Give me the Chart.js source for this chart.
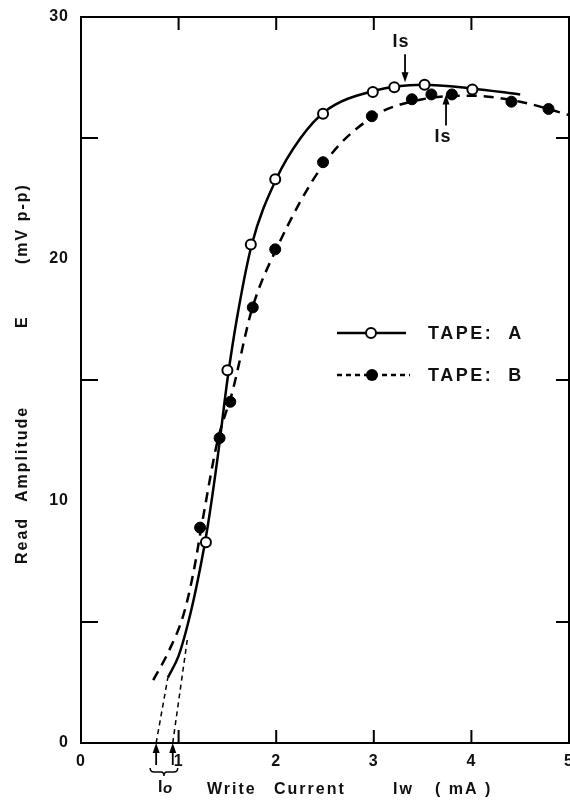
<!DOCTYPE html>
<html>
<head>
<meta charset="utf-8">
<script src="https://cdn.jsdelivr.net/npm/chart.js@4.4.1/dist/chart.umd.min.js"></script>
<style>
  html, body { margin: 0; padding: 0; background: #fff; }
  #wrap { width: 570px; height: 800px; }
</style>
</head>
<body>
<div id="wrap"><canvas id="ampChart" width="570" height="800"></canvas></div>
<script>
// Measured points: write current Iw (mA) -> read amplitude E (mV p-p)
const tapeA_x = [1.28, 1.50, 1.74, 1.99, 2.48, 2.99, 3.21, 3.52, 4.01];
const tapeA_y = [8.3, 15.4, 20.6, 23.3, 26.0, 26.9, 27.1, 27.2, 27.0];
const tapeB_x = [1.22, 1.42, 1.53, 1.76, 1.99, 2.48, 2.98, 3.39, 3.59, 3.80, 4.41, 4.79];
const tapeB_y = [8.9, 12.6, 14.1, 18.0, 20.4, 24.0, 25.9, 26.6, 26.8, 26.8, 26.5, 26.2];

// Drawn-in fitted curves
const curveA_x = [0.89, 1.0, 1.1, 1.2, 1.3, 1.4, 1.5, 1.6, 1.75, 2.0, 2.25, 2.5, 3.0, 3.5, 4.0, 4.5];
const curveA_y = [2.7, 3.6, 5.0, 6.8, 9.0, 11.8, 15.0, 17.6, 20.6, 23.3, 25.0, 26.1, 26.95, 27.2, 27.05, 26.8];
const curveB_x = [0.74, 0.9, 1.05, 1.15, 1.25, 1.4, 1.55, 1.75, 2.0, 2.5, 3.0, 3.5, 4.0, 4.5, 5.0];
const curveB_y = [2.6, 3.8, 5.3, 7.0, 9.3, 12.5, 14.5, 17.9, 20.4, 24.0, 25.9, 26.6, 26.75, 26.5, 25.95];

// Extrapolations down to the threshold current Io
const extA_x = [0.77, 0.89];
const extA_y = [0, 2.7];
const extB_x = [0.94, 1.09];
const extB_y = [0, 4.3];
const ioMarks = [0.77, 0.94];

// Saturation current Is markers [x, y of arrow tip]
const isA = [3.32, 27.3];
const isB = [3.74, 26.8];

const xTicks = [0, 1, 2, 3, 4, 5];
const yTicks = [0, 10, 20, 30];
const xMinor = [1, 2, 3, 4];
const yMinor = [5, 15, 25];

function pts(xs, ys) {
    return xs.map((x, i) => ({ x: x, y: ys[i] }));
}

const FONT = '"Liberation Sans", Arial, sans-serif';

function arrow(ctx, x, y1, y2) {
    // shaft from y1 to tip y2, head at y2
    const dir = y2 > y1 ? 1 : -1;
    ctx.beginPath();
    ctx.moveTo(x, y1);
    ctx.lineTo(x, y2 - dir * 6);
    ctx.stroke();
    ctx.beginPath();
    ctx.moveTo(x, y2);
    ctx.lineTo(x - 3.5, y2 - dir * 10);
    ctx.lineTo(x + 3.5, y2 - dir * 10);
    ctx.closePath();
    ctx.fill();
}

const decorPlugin = {
    id: 'decor',
    afterDraw(chart) {
        const ctx = chart.ctx;
        const a = chart.chartArea;
        const xs = chart.scales.x;
        const ys = chart.scales.y;
        ctx.save();
        ctx.strokeStyle = '#000';
        ctx.fillStyle = '#111';
        ctx.lineWidth = 2;
        ctx.strokeRect(a.left, a.top, a.right - a.left, a.bottom - a.top);

        // inner ticks
        ctx.beginPath();
        yMinor.forEach(v => {
            const py = ys.getPixelForValue(v);
            ctx.moveTo(a.left, py); ctx.lineTo(a.left + 17, py);
            ctx.moveTo(a.right, py); ctx.lineTo(a.right - 13, py);
        });
        xMinor.forEach(v => {
            const px = xs.getPixelForValue(v);
            ctx.moveTo(px, a.bottom); ctx.lineTo(px, a.bottom - 13);
            ctx.moveTo(px, a.top); ctx.lineTo(px, a.top + 13);
        });
        ctx.stroke();

        // tick labels
        ctx.font = 'bold 16px ' + FONT;
        ctx.letterSpacing = '1px';
        ctx.textBaseline = 'middle';
        ctx.textAlign = 'right';
        yTicks.forEach(v => ctx.fillText(String(v), a.left - 12, ys.getPixelForValue(v)));
        ctx.textAlign = 'center';
        xTicks.forEach(v => ctx.fillText(String(v), xs.getPixelForValue(v), a.bottom + 19));

        // axis titles
        ctx.font = 'bold 16px ' + FONT;
        ctx.letterSpacing = '2px';
        ctx.textAlign = 'left';
        ctx.fillText('Write', 207, 790);
        ctx.fillText('Current', 274, 790);
        ctx.fillText('Iw', 393, 790);
        ctx.fillText('( mA )', 435, 790);

        ctx.save();
        ctx.translate(23, 0);
        ctx.rotate(-Math.PI / 2);
        ctx.fillText('Read', -564, 0);
        ctx.fillText('Amplitude', -502, 0);
        ctx.fillText('E', -328, 0);
        ctx.fillText('(mV p-p)', -264, 0);
        ctx.restore();

        // Io arrows and brace
        ctx.lineWidth = 1.8;
        ctx.fillStyle = '#000';
        ioMarks.forEach(v => arrow(ctx, xs.getPixelForValue(v), a.bottom + 22, a.bottom));
        const b1 = xs.getPixelForValue(ioMarks[0]) - 6;
        const b2 = xs.getPixelForValue(ioMarks[1]) + 5;
        const bm = (b1 + b2) / 2;
        const by = a.bottom + 29;
        ctx.lineWidth = 1.5;
        ctx.beginPath();
        ctx.moveTo(b1, by - 4);
        ctx.quadraticCurveTo(b1, by, b1 + 4, by);
        ctx.lineTo(bm - 3, by);
        ctx.quadraticCurveTo(bm, by, bm, by + 4);
        ctx.quadraticCurveTo(bm, by, bm + 3, by);
        ctx.lineTo(b2 - 4, by);
        ctx.quadraticCurveTo(b2, by, b2, by - 4);
        ctx.stroke();
        ctx.fillStyle = '#111';
        ctx.letterSpacing = '0px';
        ctx.font = 'bold 16px ' + FONT;
        ctx.textAlign = 'left';
        ctx.fillText('I', bm - 6, by + 16);
        ctx.font = 'italic bold 15px ' + FONT;
        ctx.fillText('o', bm - 1, by + 17);

        // Is arrows
        ctx.lineWidth = 1.8;
        ctx.fillStyle = '#000';
        const ax = xs.getPixelForValue(isA[0]);
        const ay = ys.getPixelForValue(isA[1]);
        arrow(ctx, ax, ay - 28, ay);
        const bx = xs.getPixelForValue(isB[0]);
        const byy = ys.getPixelForValue(isB[1]);
        arrow(ctx, bx, byy + 31, byy);
        ctx.fillStyle = '#111';
        ctx.font = 'bold 18px ' + FONT;
        ctx.letterSpacing = '1px';
        ctx.textAlign = 'center';
        ctx.fillText('Is', ax - 4, ay - 40);
        ctx.fillText('Is', bx - 3, byy + 43);

        // legend
        ctx.lineWidth = 2.5;
        ctx.strokeStyle = '#000';
        ctx.beginPath();
        ctx.moveTo(337, 333); ctx.lineTo(406, 333);
        ctx.stroke();
        ctx.fillStyle = '#fff';
        ctx.lineWidth = 2;
        ctx.beginPath();
        ctx.arc(371, 333, 5, 0, Math.PI * 2);
        ctx.fill(); ctx.stroke();

        ctx.lineWidth = 2.5;
        ctx.setLineDash([5, 4]);
        ctx.beginPath();
        ctx.moveTo(337, 375); ctx.lineTo(410, 375);
        ctx.stroke();
        ctx.setLineDash([]);
        ctx.fillStyle = '#000';
        ctx.beginPath();
        ctx.arc(372, 375, 6, 0, Math.PI * 2);
        ctx.fill();

        ctx.fillStyle = '#111';
        ctx.font = 'bold 18px ' + FONT;
        ctx.letterSpacing = '2.5px';
        ctx.textAlign = 'left';
        ctx.fillText('TAPE:  A', 428, 334);
        ctx.fillText('TAPE:  B', 428, 376);
        ctx.restore();
    }
};

const ctx1 = document.getElementById('ampChart').getContext('2d');
const ampChart = new Chart(ctx1, {
    type: 'scatter',
    data: {
        datasets: [{
            label: 'TAPE: A',
            data: pts(tapeA_x, tapeA_y),
            pointRadius: 5,
            pointBackgroundColor: '#fff',
            pointBorderColor: '#000',
            pointBorderWidth: 2
        }, {
            label: 'TAPE: B',
            data: pts(tapeB_x, tapeB_y),
            pointRadius: 5.5,
            pointBackgroundColor: '#000',
            pointBorderColor: '#000',
            pointBorderWidth: 1
        }, {
            label: 'curve A',
            data: pts(curveA_x, curveA_y),
            showLine: true,
            borderColor: '#000',
            borderWidth: 2.5,
            cubicInterpolationMode: 'monotone',
            pointRadius: 0
        }, {
            label: 'curve B',
            data: pts(curveB_x, curveB_y),
            showLine: true,
            borderColor: '#000',
            borderWidth: 2.5,
            borderDash: [10, 7],
            cubicInterpolationMode: 'monotone',
            pointRadius: 0
        }, {
            label: 'ext A',
            data: pts(extA_x, extA_y),
            showLine: true,
            borderColor: '#000',
            borderWidth: 1.5,
            borderDash: [5, 4],
            pointRadius: 0
        }, {
            label: 'ext B',
            data: pts(extB_x, extB_y),
            showLine: true,
            borderColor: '#000',
            borderWidth: 1.5,
            borderDash: [5, 4],
            pointRadius: 0
        }]
    },
    options: {
        responsive: false,
        animation: false,
        events: [],
        layout: { autoPadding: false, padding: { left: 81, right: 1, top: 17, bottom: 57 } },
        plugins: { legend: { display: false }, tooltip: { enabled: false } },
        scales: {
            x: { type: 'linear', min: 0, max: 5, display: false },
            y: { type: 'linear', min: 0, max: 30, display: false }
        }
    },
    plugins: [decorPlugin]
});
</script>
</body>
</html>
